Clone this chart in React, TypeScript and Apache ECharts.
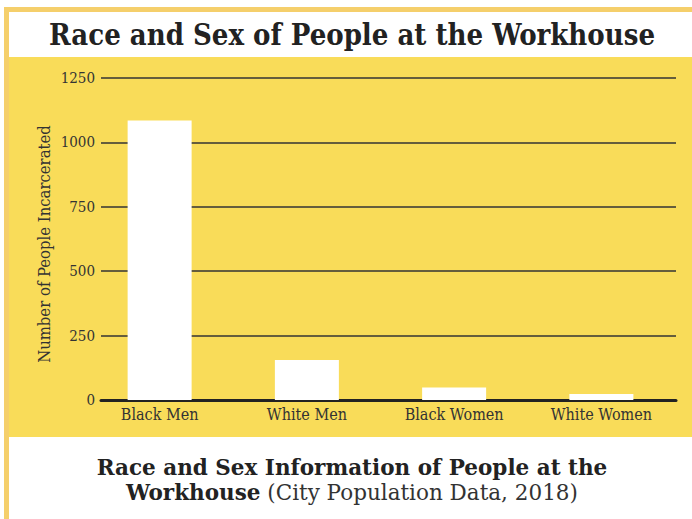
import React, { useEffect, useRef } from "react";
import * as echarts from "echarts";

const categories = ["Black Men", "White Men", "Black Women", "White Women"];
const peopleIncarcerated = [1085, 155, 49, 23];
const yTicks = { min: 0, max: 1250, interval: 250 };

const titleText = "Race and Sex of People at the Workhouse";
const yAxisName = "Number of People Incarcerated";
const captionLine1 = "Race and Sex Information of People at the";
const captionBold = "Workhouse";
const captionNormal = "(City Population Data, 2018)";

const FONT_C = "'DejaVu Serif Condensed', 'DejaVu Serif', serif";
const FONT_N = "'DejaVu Serif', serif";
const YELLOW = "#f9dc59";
const BORDER = "#f5cf6b";
const INK = "#222222";

export default function App() {
  const ref = useRef<HTMLDivElement>(null);
  useEffect(() => {
    if (!ref.current) return;
    const chart = echarts.init(ref.current, undefined, { renderer: "svg" });
    chart.setOption({
      animation: false,
      backgroundColor: "#ffffff",
      textStyle: { fontFamily: FONT_C },
      graphic: [
        { type: "rect", z: -10, silent: true, shape: { x: 4, y: 7, width: 688, height: 512 }, style: { fill: BORDER } },
        { type: "rect", z: -9, silent: true, shape: { x: 9, y: 12, width: 683, height: 507 }, style: { fill: "#ffffff" } },
        { type: "rect", z: -8, silent: true, shape: { x: 9, y: 57, width: 683, height: 380 }, style: { fill: YELLOW } },
        {
          type: "text", x: 352, y: 35, silent: true,
          style: { text: titleText, fontFamily: FONT_C, fontSize: 29, fontWeight: "bold", fill: INK, align: "center", verticalAlign: "middle" },
        },
        {
          type: "text", x: 44, y: 244, rotation: Math.PI / 2, silent: true,
          style: { text: yAxisName, fontFamily: FONT_C, fontSize: 16.5, fill: "#333333", align: "center", verticalAlign: "middle" },
        },
        {
          type: "text", x: 352, y: 467, silent: true,
          style: { text: captionLine1, fontFamily: FONT_N, fontSize: 21.5, fontWeight: "bold", fill: INK, align: "center", verticalAlign: "middle" },
        },
        {
          type: "text", x: 352, y: 492, silent: true,
          style: {
            text: "{b|" + captionBold + "}{n| " + captionNormal + "}",
            align: "center", verticalAlign: "middle",
            rich: {
              b: { fontFamily: FONT_N, fontSize: 21.5, fontWeight: "bold", fill: INK },
              n: { fontFamily: FONT_N, fontSize: 21.5, fontWeight: "normal", fill: "#333333" },
            },
          },
        },
      ],
      grid: [
        { left: 101, right: 16, top: 78, bottom: 119, containLabel: false },
        { left: 86, right: 17, top: 78, bottom: 119, containLabel: false },
      ],
      xAxis: [
        {
          gridIndex: 0, type: "category", data: categories,
          axisLine: { show: true, lineStyle: { color: INK, width: 3 } },
          axisTick: { show: false }, axisLabel: { show: false }, splitLine: { show: false },
        },
        {
          gridIndex: 1, type: "category", data: categories,
          axisLine: { show: false }, axisTick: { show: false }, splitLine: { show: false },
          axisLabel: { show: true, fontFamily: FONT_C, fontSize: 16, color: "#333333", margin: 6 },
        },
      ],
      yAxis: [
        {
          gridIndex: 0, type: "value", min: yTicks.min, max: yTicks.max, interval: yTicks.interval,
          axisLine: { show: false }, axisTick: { show: false },
          axisLabel: { fontFamily: FONT_C, fontSize: 15, color: "#333333", margin: 6, formatter: (v: number) => String(v) },
          splitLine: { show: true, lineStyle: { color: "#333333", width: 1.5 } },
        },
        { gridIndex: 1, type: "value", min: yTicks.min, max: yTicks.max, interval: yTicks.interval, show: false },
      ],
      series: [
        {
          type: "bar", xAxisIndex: 1, yAxisIndex: 1, data: peopleIncarcerated,
          barWidth: 64, itemStyle: { color: "#ffffff" }, z: 5,
        },
      ],
    });
    return () => chart.dispose();
  }, []);
  return <div ref={ref} style={{ position: "fixed", left: 0, top: 0, width: 692, height: 519 }} />;
}
